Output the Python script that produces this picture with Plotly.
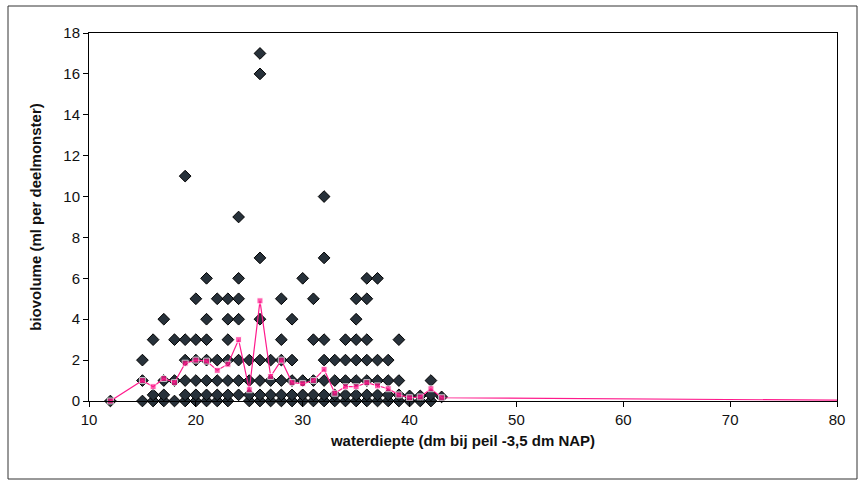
import plotly.graph_objects as go

# Observations (waterdiepte in dm, biovolume in ml per deelmonster)
depth_obs = [
    12,
    15, 15, 15,
    16, 16, 16,
    17, 17, 17, 17,
    18, 18, 18,
    19, 19, 19, 19, 19, 19,
    20, 20, 20, 20, 20, 20,
    21, 21, 21, 21, 21, 21, 21,
    22, 22, 22, 22, 22,
    23, 23, 23, 23, 23, 23, 23,
    24, 24, 24, 24, 24, 24, 24,
    25, 25, 25, 25,
    26, 26, 26, 26, 26, 26, 26, 26,
    27, 27, 27, 27,
    28, 28, 28, 28, 28, 28,
    29, 29, 29, 29, 29,
    30, 30, 30, 30,
    31, 31, 31, 31, 31,
    32, 32, 32, 32, 32, 32, 32,
    33, 33, 33, 33,
    34, 34, 34, 34, 34,
    35, 35, 35, 35, 35, 35, 35,
    36, 36, 36, 36, 36, 36, 36,
    37, 37, 37, 37, 37,
    38, 38, 38, 38,
    39, 39, 39, 39,
    40, 40,
    41, 41,
    42, 42, 42,
    43,
]
volume_obs = [
    0,
    0, 1, 2,
    0, 0.3, 3,
    0, 0.3, 1, 4,
    0, 1, 3,
    0, 0.3, 1, 2, 3, 11,
    0, 0.3, 1, 2, 3, 5,
    0, 0.3, 1, 2, 3, 4, 6,
    0, 0.3, 1, 2, 5,
    0, 0.3, 1, 2, 3, 4, 5,
    0.3, 1, 2, 4, 5, 6, 9,
    0, 0.3, 1, 2,
    0, 0.3, 1, 2, 4, 7, 16, 17,
    0, 0.3, 1, 2,
    0, 0.3, 1, 2, 3, 5,
    0, 0.3, 1, 2, 4,
    0, 0.3, 1, 6,
    0, 0.3, 1, 3, 5,
    0, 0.3, 1, 2, 3, 7, 10,
    0, 0.3, 1, 2,
    0, 0.3, 1, 2, 3,
    0, 0.3, 1, 2, 3, 4, 5,
    0, 0.3, 1, 2, 3, 5, 6,
    0, 0.3, 1, 2, 6,
    0, 0.3, 1, 2,
    0, 0.3, 1, 3,
    0, 0.25,
    0, 0.25,
    0, 0.3, 1,
    0.2,
]

# Mean per depth (pink line)
mean_depth = [12, 15, 16, 17, 18, 19, 20, 21, 22, 23, 24, 25, 26, 27, 28, 29, 30,
              31, 32, 33, 34, 35, 36, 37, 38, 39, 40, 41, 42, 43, 80]
mean_volume = [0, 1.0, 0.7, 1.1, 0.9, 1.85, 2.0, 1.95, 1.5, 1.8, 3.0, 0.55, 4.9, 1.2,
               2.0, 0.9, 0.85, 1.0, 1.55, 0.38, 0.7, 0.7, 0.9, 0.74, 0.6, 0.3, 0.16,
               0.2, 0.6, 0.16, 0.04]

x_ticks = [10, 20, 30, 40, 50, 60, 70, 80]
y_ticks = [0, 2, 4, 6, 8, 10, 12, 14, 16, 18]

# the last mean point (at the axis end) shows no visible marker
mean_marker_sizes = [6] * (len(mean_depth) - 1) + [0]

fig = go.Figure()
fig.add_trace(go.Scatter(
    x=depth_obs, y=volume_obs, mode="markers", cliponaxis=False,
    marker=dict(symbol="diamond", size=9, color="#27313a",
                line=dict(color="#000000", width=1)),
    showlegend=False,
))
fig.add_trace(go.Scatter(
    x=mean_depth, y=mean_volume, mode="lines+markers", cliponaxis=False,
    line=dict(color="#ff1a8c", width=1.2),
    marker=dict(symbol="square", size=mean_marker_sizes, color="#ff1a8c"),
    showlegend=False,
))

tick_font = dict(family="Liberation Sans, Arial, sans-serif", size=15, color="#111111")
title_font = dict(family="Liberation Sans, Arial, sans-serif", size=15, color="#111111")
fig.update_layout(
    width=861, height=484,
    margin=dict(l=89, r=24, t=33, b=83),
    paper_bgcolor="white", plot_bgcolor="white",
    font=tick_font,
    xaxis=dict(
        range=[10, 80], tickvals=x_ticks, ticks="outside", ticklen=5,
        tickcolor="#000", showgrid=False, zeroline=False,
        showline=True, linecolor="#000", linewidth=1, mirror=True,
        tickfont=tick_font,
        title=dict(text="<b>waterdiepte (dm bij peil -3,5 dm NAP)</b>",
                   font=title_font, standoff=8),
    ),
    yaxis=dict(
        range=[0, 18], tickvals=y_ticks, ticks="outside", ticklen=5,
        tickcolor="#000", showgrid=False, zeroline=False,
        showline=True, linecolor="#000", linewidth=1, mirror=True,
        tickfont=tick_font,
        title=dict(text="<b>biovolume (ml per deelmonster)</b>",
                   font=title_font, standoff=18),
    ),
    shapes=[dict(
        type="rect", xref="paper", yref="paper",
        x0=(8 - 89) / 748, x1=(857 - 89) / 748,
        y0=(401 - 479) / 368, y1=(401 - 6) / 368,
        line=dict(color="#333333", width=1), layer="below",
    )],
)

fig.write_html("out.html")
